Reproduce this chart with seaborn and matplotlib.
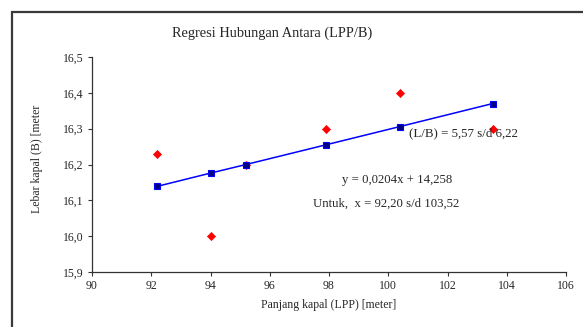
import matplotlib
matplotlib.use('Agg')
import matplotlib.pyplot as plt
import seaborn as sns
import pandas as pd
from matplotlib.patches import Rectangle

# Data
lpp = [92.20, 94.00, 95.20, 97.90, 100.40, 103.52]
b_data = [16.23, 16.00, 16.20, 16.30, 16.40, 16.30]
b_regresi = [16.139, 16.176, 16.200, 16.255, 16.306, 16.370]

x_ticks = [90, 92, 94, 96, 98, 100, 102, 104, 106]
y_ticks = [15.9, 16.0, 16.1, 16.2, 16.3, 16.4, 16.5]
y_tick_labels = ['15,9', '16,0', '16,1', '16,2', '16,3', '16,4', '16,5']

df = pd.DataFrame({'LPP': lpp, 'B': b_data, 'B_reg': b_regresi})

sns.set_style('white')
plt.rcParams['font.family'] = ['Liberation Serif', 'DejaVu Serif']

fig = plt.figure(figsize=(5.83, 3.27), dpi=100)
ax = fig.add_axes([92 / 583, 1 - 272 / 327, 474 / 583, 215 / 327])

# Rahmen um die Grafik
fig.patches.append(Rectangle((12 / 583, -0.05), 1.0, 1 - 12 / 327 + 0.05,
                             transform=fig.transFigure, fill=False,
                             edgecolor='#3a3a3a', linewidth=1.6))

sns.lineplot(data=df, x='LPP', y='B_reg', ax=ax, color='blue', linewidth=1.1,
             marker='s', markersize=5, markerfacecolor='#000080',
             markeredgecolor='blue', markeredgewidth=0.8)
sns.scatterplot(data=df, x='LPP', y='B', ax=ax, color='red', marker='D',
                s=17, edgecolor='red', linewidth=0.5, zorder=1)

ax.set_xlim(90, 106)
ax.set_ylim(15.9, 16.5)
ax.set_xticks(x_ticks)
ax.set_xticklabels([str(t) for t in x_ticks], fontsize=8.5)
ax.set_yticks(y_ticks)
ax.set_yticklabels(y_tick_labels, fontsize=8.5)

for s in ['top', 'right']:
    ax.spines[s].set_visible(False)
for s in ['left', 'bottom']:
    ax.spines[s].set_color('#333333')
    ax.spines[s].set_linewidth(0.9)
ax.tick_params(axis='both', direction='out', length=3, width=0.8, color='#333333',
               pad=3, bottom=True, left=True)
ax.patch.set_alpha(0)

ax.set_xlabel('Panjang kapal (LPP) [meter]', fontsize=8.5, labelpad=5)
ax.set_ylabel('Lebar kapal (B) [meter', fontsize=8.5)
ax.yaxis.set_label_coords(-0.103, 0.526)
fig.text(272 / 583, 1 - 33 / 327, 'Regresi Hubungan Antara (LPP/B)',
         ha='center', va='center', fontsize=10.4)

ax.text(100.7, 16.288, '(L/B) = 5,57 s/d 6,22', fontsize=9.3, va='center')
ax.text(98.45, 16.157, 'y = 0,0204x + 14,258', fontsize=9.2, va='center', ha='left')
ax.text(97.47, 16.09, 'Untuk,  x = 92,20 s/d 103,52', fontsize=9.2, va='center', ha='left')

plt.savefig('out.png', dpi=100)
